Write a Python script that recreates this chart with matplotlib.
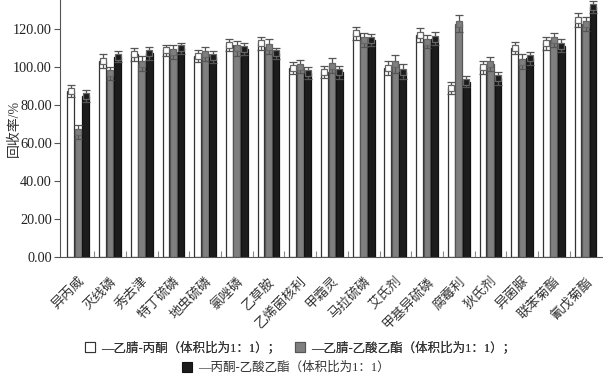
import matplotlib
matplotlib.use("Agg")
import matplotlib.pyplot as plt
import numpy as np
from matplotlib.patches import Patch

plt.rcParams['font.family'] = ['Liberation Serif', 'Noto Sans CJK SC']

categories = ["异丙威", "灭线磷", "秀去津", "特丁硫磷", "地虫硫磷", "氯唑磷", "乙草胺",
              "乙烯菌核利", "甲霜灵", "马拉硫磷", "艾氏剂", "甲基异硫磷", "腐霉利",
              "狄氏剂", "异菌脲", "联苯菊酯", "氰戊菊酯"]
series_names = ["—乙腈-丙酮（体积比为1：1）；", "—乙腈-乙酸乙酯（体积比为1：1）；",
                "—丙酮-乙酸乙酯（体积比为1：1）"]
acn_acetone = [87.5, 103.2, 106.8, 109.0, 106.0, 111.7, 112.6, 99.5, 97.5, 117.9, 99.8,
               117.3, 89.3, 100.0, 110.3, 112.6, 124.9]
acn_ea = [66.0, 96.8, 102.0, 108.0, 106.8, 110.0, 110.9, 100.3, 100.8, 114.4, 101.7,
          113.5, 123.1, 101.7, 103.0, 114.4, 122.6]
acetone_ea = [84.9, 105.6, 107.4, 110.0, 105.6, 109.5, 107.4, 97.2, 97.4, 114.4, 97.7,
              115.2, 92.4, 94.2, 104.7, 111.4, 131.9]
err_1 = [3.3, 3.6, 3.2, 3.0, 3.4, 3.3, 3.4, 3.1, 3.3, 3.5, 3.7, 3.7, 3.1, 3.3, 3.2, 3.2, 3.5]
err_2 = [3.7, 3.3, 4.0, 3.7, 3.7, 4.0, 4.1, 3.5, 3.9, 3.5, 4.8, 3.5, 4.4, 3.5, 3.8, 3.8, 3.7]
err_3 = [3.1, 3.0, 3.4, 3.0, 3.1, 3.1, 2.9, 3.1, 3.4, 3.1, 4.0, 3.5, 3.0, 3.5, 3.5, 3.3, 3.0]
yticks = [0, 20, 40, 60, 80, 100, 120]

fig = plt.figure(figsize=(6.03, 3.85), dpi=100)
ax = fig.add_axes([0.0995, 0.3325, 0.9005, 0.667])

x = np.arange(len(categories))
w = 0.215
off = 0.237
face = ['white', '#7f7f7f', '#1c1c1c']
edge = ['#333333', '#555555', '#111111']
vals = [acn_acetone, acn_ea, acetone_ea]
errs = [err_1, err_2, err_3]
for i in range(3):
    xi = x + (i - 1) * off
    ax.bar(xi, vals[i], width=w, color=face[i], edgecolor=edge[i], linewidth=0.9, zorder=2)
    ax.errorbar(xi, vals[i], yerr=errs[i], fmt='s', ms=4.5, mfc=face[i], mec='#666666',
                mew=0.9, ecolor='#555555', elinewidth=0.9, capsize=3, capthick=0.9, zorder=3)

ax.set_xlim(-0.58, 16.55)
ax.set_ylim(0, 135.4)
ax.set_yticks(yticks)
ax.set_yticklabels([f"{v:.2f}" for v in yticks], fontsize=10.3, color='#222222')
ax.tick_params(axis='y', direction='out', length=4, width=0.8, color='#555555', pad=2)
ax.set_xticks(x)
ax.set_xticklabels(categories, rotation=45, ha='right', rotation_mode='anchor', fontsize=9.5,
                   color='#333333')
ax.tick_params(axis='x', length=0, pad=13)
ax.set_xticks(np.arange(len(categories) - 1) + 0.5, minor=True)
ax.tick_params(axis='x', which='minor', direction='in', length=4, width=0.8, color='#888888')
for s in ['top', 'right']:
    ax.spines[s].set_visible(False)
for s in ['left', 'bottom']:
    ax.spines[s].set_color('#555555')
    ax.spines[s].set_linewidth(0.8)
ax.set_ylabel("回收率/%", fontsize=10, color='#333333')
ax.yaxis.set_label_coords(-0.072, 0.5)

handles = [Patch(facecolor=face[i], edgecolor=edge[i], linewidth=0.8) for i in range(3)]
leg1 = fig.legend(handles[:2], series_names[:2], ncol=2, loc='center', bbox_to_anchor=(0.4975, 0.096),
                  frameon=False, fontsize=9, handlelength=0.8, handleheight=0.8,
                  handletextpad=0.5, columnspacing=1.2, labelcolor='#333333')
fig.add_artist(leg1)
fig.legend(handles[2:], series_names[2:], loc='center', bbox_to_anchor=(0.474, 0.044),
           frameon=False, fontsize=9, handlelength=0.8, handleheight=0.8, handletextpad=0.5,
           labelcolor='#333333')

fig.savefig("out.png", dpi=100)
